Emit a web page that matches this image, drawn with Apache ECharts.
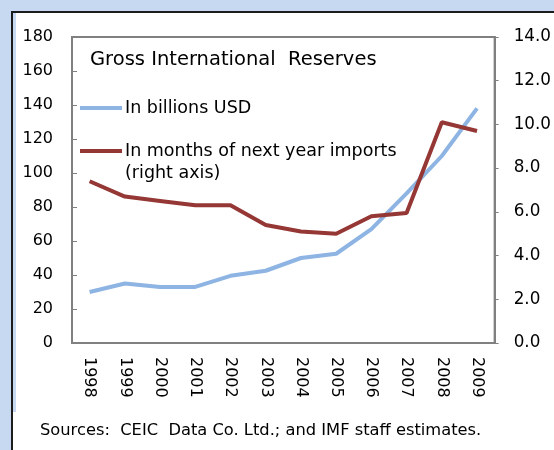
<!DOCTYPE html>
<html>
<head>
<meta charset="utf-8">
<style>
  html, body { margin: 0; padding: 0; background: #c6d9f1; overflow: hidden; width: 554px; height: 450px; }
  #chart { width: 554px; height: 450px; display: block; }
</style>
<script src="https://cdn.jsdelivr.net/npm/echarts@6/dist/echarts.min.js"></script>
</head>
<body>
<div id="chart"></div>
<script>
// Years on the category axis
const years = ['1998', '1999', '2000', '2001', '2002', '2003', '2004', '2005', '2006', '2007', '2008', '2009'];
// Gross reserves, billions of US dollars (left axis)
const reservesUSD = [30, 35, 33, 33, 39.5, 42.5, 50, 52.5, 67, 88, 110, 138];
// Reserves in months of next year's imports (right axis)
const reservesMonths = [7.4, 6.7, 6.5, 6.3, 6.3, 5.4, 5.1, 5.0, 5.8, 5.95, 10.1, 9.7];

const seriesNames = ['In billions USD', 'In months of next year imports'];
const titleText = 'Gross International  Reserves';
const rightAxisNote = '(right axis)';
const sourceText = 'Sources:  CEIC  Data Co. Ltd.; and IMF staff estimates.';

const FONT = 'DejaVu Sans';
const AXIS_GRAY = '#808080';
const BLUE = '#8db4e2';
const RED = '#953735';

const chart = echarts.init(document.getElementById('chart'), null, { renderer: 'canvas', width: 554, height: 450 });

chart.setOption({
  backgroundColor: '#c6d9f1',
  animation: false,
  textStyle: { fontFamily: FONT },
  title: {
    text: titleText,
    left: 90,
    top: 50,
    padding: 0,
    textStyle: { fontFamily: FONT, fontSize: 19.5, fontWeight: 'normal', color: '#000' }
  },
  legend: {
    orient: 'vertical',
    left: 80,
    top: 99,
    padding: 0,
    itemGap: 25,
    itemWidth: 42,
    itemHeight: 4,
    icon: 'rect',
    data: seriesNames,
    textStyle: { fontFamily: FONT, fontSize: 17.5, color: '#000', padding: [0, 0, 0, -2] }
  },
  graphic: [
    {
      type: 'rect',
      z: -10,
      shape: { x: 12, y: 12, width: 600, height: 460 },
      style: { fill: '#ffffff', stroke: '#1c1c1c', lineWidth: 2 }
    },
    {
      type: 'rect',
      z: -9,
      shape: { x: 13, y: 13, width: 3, height: 399 },
      style: { fill: '#c6d9f1' }
    },
    {
      type: 'text',
      left: 125,
      top: 164,
      style: { text: rightAxisNote, font: '17.5px "DejaVu Sans"', fill: '#000' }
    },
    {
      type: 'text',
      left: 40,
      top: 423,
      style: { text: sourceText, font: '16.3px "DejaVu Sans"', fill: '#000' }
    }
  ],
  grid: {
    left: 72,
    right: 50,
    top: 37,
    bottom: 107,
    show: true,
    borderColor: AXIS_GRAY,
    borderWidth: 2,
    backgroundColor: 'transparent'
  },
  xAxis: {
    type: 'category',
    data: years,
    boundaryGap: true,
    axisLine: { lineStyle: { color: AXIS_GRAY, width: 2 } },
    axisTick: { inside: true, length: 4, lineStyle: { color: AXIS_GRAY, width: 1 } },
    axisLabel: { rotate: -90, margin: 14, fontFamily: FONT, fontSize: 16, color: '#000' },
    splitLine: { show: false }
  },
  yAxis: [
    {
      type: 'value',
      min: 0,
      max: 180,
      interval: 20,
      position: 'left',
      axisLine: { show: true, lineStyle: { color: AXIS_GRAY, width: 2 } },
      axisTick: { show: true, inside: true, length: 5, lineStyle: { color: AXIS_GRAY, width: 1 } },
      axisLabel: { margin: 19, fontFamily: FONT, fontSize: 16, color: '#000' },
      splitLine: { show: false }
    },
    {
      type: 'value',
      min: 0,
      max: 14,
      interval: 2,
      position: 'right',
      axisLine: { show: true, lineStyle: { color: AXIS_GRAY, width: 2 } },
      axisTick: { show: true, inside: false, length: 4, lineStyle: { color: AXIS_GRAY, width: 1 } },
      axisLabel: {
        margin: 19, fontFamily: FONT, fontSize: 16.8, color: '#000',
        formatter: v => v.toFixed(1)
      },
      splitLine: { show: false }
    }
  ],
  series: [
    {
      name: seriesNames[0],
      type: 'line',
      yAxisIndex: 0,
      data: reservesUSD,
      symbol: 'none',
      lineStyle: { color: BLUE, width: 4 },
      itemStyle: { color: BLUE },
      z: 2
    },
    {
      name: seriesNames[1],
      type: 'line',
      yAxisIndex: 1,
      data: reservesMonths,
      symbol: 'none',
      lineStyle: { color: RED, width: 4 },
      itemStyle: { color: RED },
      z: 3
    }
  ]
});
</script>
</body>
</html>
